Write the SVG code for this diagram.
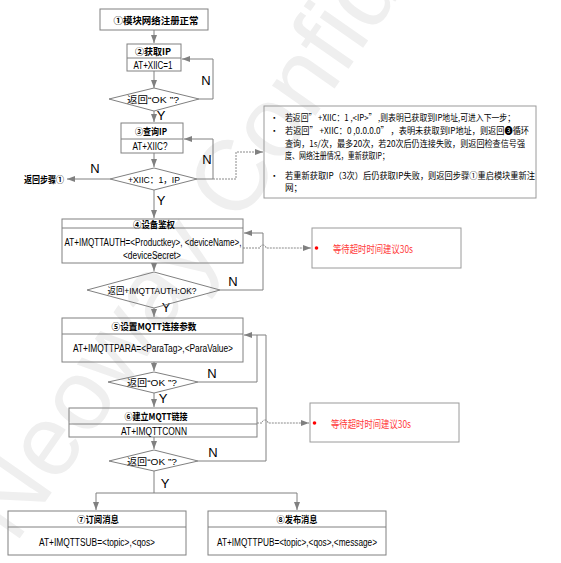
<svg xmlns="http://www.w3.org/2000/svg" width="561" height="563" viewBox="0 0 561 563">
<style>
.bx{fill:none;stroke:#808080;stroke-width:1}
.nb{fill:none;stroke:#9a9a9a;stroke-width:1}
.ln{fill:none;stroke:#808080;stroke-width:1}
.dt{fill:none;stroke:#8a8a8a;stroke-width:1;stroke-dasharray:2,1}
.ti{font-family:"Noto Sans CJK SC","Liberation Sans",sans-serif;font-weight:bold;font-size:9.5px;fill:#000;text-anchor:middle;dominant-baseline:central}
.cd{font-family:"Liberation Sans","Noto Sans CJK SC",sans-serif;font-size:10px;fill:#000;text-anchor:middle;dominant-baseline:central}
.dm{font-family:"Liberation Sans","Noto Sans CJK SC",sans-serif;font-size:9.5px;fill:#000;text-anchor:middle;dominant-baseline:central}
.yn{font-family:"Liberation Sans",sans-serif;font-size:13px;fill:#000;text-anchor:middle;dominant-baseline:central}
.nt{font-family:"Noto Sans CJK SC","Liberation Sans",sans-serif;font-size:8.6px;fill:#000;dominant-baseline:central}
.rd{font-family:"Noto Sans CJK SC","Liberation Sans",sans-serif;font-size:10px;fill:#ff3b3b;dominant-baseline:central}
.wm{font-family:"Liberation Sans",sans-serif;font-size:100px;fill:#efefef}
</style>
<defs>
<marker id="ah" markerUnits="userSpaceOnUse" markerWidth="8" markerHeight="6" refX="8" refY="3" orient="auto"><path d="M0,0 L8,3 L0,6 z" fill="#808080"/></marker>
</defs>
<rect width="561" height="563" fill="#fff"/>
<g id="watermark"><text class="wm" transform="translate(15,545) rotate(-55)">Neoway Confidential</text></g>

<g id="connectors">
<path class="ln" d="M154,30 V43" marker-end="url(#ah)"/>
<path class="ln" d="M154,71 V88" marker-end="url(#ah)"/>
<path class="ln" d="M199,99 H213 V59 H182" marker-end="url(#ah)"/>
<path class="ln" d="M154,111 V122" marker-end="url(#ah)"/>
<path class="ln" d="M154,153 V167" marker-end="url(#ah)"/>
<path class="ln" d="M197,179 H213 V139 H184" marker-end="url(#ah)"/>
<path class="ln" d="M110,179 H67" marker-end="url(#ah)"/>
<path class="dt" d="M213,179 H236 V152 H263" marker-end="url(#ah)"/>
<path class="ln" d="M154,190 V218" marker-end="url(#ah)"/>
<path class="ln" d="M154,263 V271" marker-end="url(#ah)"/>
<path class="ln" d="M220,290 H263 V233 H244" marker-end="url(#ah)"/>
<path class="dt" d="M243,248 H260 a3,3 0 0 1 6,0 H311" marker-end="url(#ah)"/>
<path class="ln" d="M154,308 V317" marker-end="url(#ah)"/>
<path class="ln" d="M154,362 V371" marker-end="url(#ah)"/>
<path class="ln" d="M198,382 H257 V335"/>
<path class="ln" d="M198,461 H266 V335 H244" marker-end="url(#ah)"/>
<path class="ln" d="M154,393 V407" marker-end="url(#ah)"/>
<path class="dt" d="M257,423 H262 a3,3 0 0 1 6,0 H309" marker-end="url(#ah)"/>
<path class="ln" d="M154,437 V449" marker-end="url(#ah)"/>
<path class="ln" d="M154,471 V493 M96,493 H297"/>
<path class="ln" d="M96,493 V510" marker-end="url(#ah)"/>
<path class="ln" d="M297,493 V510" marker-end="url(#ah)"/>
<text class="yn" x="206" y="80">N</text>
<text class="yn" x="161" y="115">Y</text>
<text class="yn" x="207" y="159">N</text>
<text class="yn" x="95" y="168">N</text>
<text class="yn" x="161" y="200">Y</text>
<text class="yn" x="233" y="281">N</text>
<text class="yn" x="166" y="307">Y</text>
<text class="yn" x="212" y="373">N</text>
<text class="yn" x="163" y="398">Y</text>
<text class="yn" x="213" y="452">N</text>
<text class="yn" x="165" y="483">Y</text>
</g>

<g id="n1"><rect class="bx" x="100" y="9" width="108" height="21"/><text class="ti" x="156" y="20" textLength="85" lengthAdjust="spacingAndGlyphs">①模块网络注册正常</text></g>
<g id="n2"><rect class="bx" x="127" y="44" width="54" height="27"/><line class="ln" x1="127" y1="58" x2="181" y2="58"/><text class="ti" x="153" y="51" textLength="36" lengthAdjust="spacingAndGlyphs">②获取IP</text><text class="cd" x="153" y="65" textLength="39" lengthAdjust="spacingAndGlyphs">AT+XIIC=1</text></g>
<g id="d1"><path class="bx" d="M109,99 L154,88 L199,99 L154,111 Z"/><text class="dm" x="153" y="99" textLength="52" lengthAdjust="spacingAndGlyphs">返回“OK ”?</text></g>
<g id="n3"><rect class="bx" x="121" y="123" width="62" height="30"/><line class="ln" x1="121" y1="139" x2="183" y2="139"/><text class="ti" x="151" y="131" textLength="32" lengthAdjust="spacingAndGlyphs">③查询IP</text><text class="cd" x="150" y="146" textLength="35" lengthAdjust="spacingAndGlyphs">AT+XIIC?</text></g>
<g id="d2"><path class="bx" d="M110,179 L154,168 L197,179 L154,190 Z"/><text class="dm" x="154" y="179" textLength="52" lengthAdjust="spacingAndGlyphs">+XIIC：1，IP</text></g>
<g id="back1"><text class="ti" x="64" y="179" style="text-anchor:end" textLength="40" lengthAdjust="spacingAndGlyphs">返回步骤①</text></g>
<g id="note1"><rect class="nb" x="264" y="106" width="272" height="92"/>
<text class="nt" x="270" y="117">•</text><text class="nt" x="270" y="130">•</text><text class="nt" x="270" y="175">•</text>
<text class="nt" x="285" y="117" textLength="230" lengthAdjust="spacingAndGlyphs">若返回” +XIIC：1 ,&lt;IP&gt;” ,则表明已获取到IP地址,可进入下一步；</text>
<text class="nt" x="285" y="130" textLength="244" lengthAdjust="spacingAndGlyphs">若返回” +XIIC：0 ,0.0.0.0” ，表明未获取到IP地址，则返回❸循环</text>
<text class="nt" x="285" y="143" textLength="240" lengthAdjust="spacingAndGlyphs">查询，1s/次，最多20次，若20次后仍连接失败，则返回检查信号强</text>
<text class="nt" x="285" y="155" textLength="104" lengthAdjust="spacingAndGlyphs">度、网络注册情况，重新获取IP；</text>
<text class="nt" x="285" y="175" textLength="250" lengthAdjust="spacingAndGlyphs">若重新获取IP（3次）后仍获取IP失败，则返回步骤①重启模块重新注</text>
<text class="nt" x="285" y="187">网；</text>
</g>
<g id="n4"><rect class="bx" x="62" y="219" width="181" height="44"/><line class="ln" x1="62" y1="228" x2="243" y2="228"/><text class="ti" x="154" y="224" textLength="42" lengthAdjust="spacingAndGlyphs">④设备鉴权</text><text class="cd" x="153" y="242" textLength="177" lengthAdjust="spacingAndGlyphs">AT+IMQTTAUTH=&lt;Productkey&gt;, &lt;deviceName&gt;,</text><text class="cd" x="152" y="255" textLength="58" lengthAdjust="spacingAndGlyphs">&lt;deviceSecret&gt;</text></g>
<g id="d3"><path class="bx" d="M87,290 L154,272 L220,290 L154,308 Z"/><text class="dm" x="152" y="290" textLength="89" lengthAdjust="spacingAndGlyphs">返回+IMQTTAUTH:OK?</text></g>
<g id="note2"><rect class="nb" x="312" y="228" width="149" height="40"/><circle cx="316.5" cy="248" r="1.8" fill="#ff0000"/><text class="rd" x="333" y="248" textLength="80" lengthAdjust="spacingAndGlyphs">等待超时时间建议30s</text></g>
<g id="n5"><rect class="bx" x="62" y="318" width="181" height="44"/><line class="ln" x1="62" y1="334" x2="243" y2="334"/><text class="ti" x="154" y="326" textLength="85" lengthAdjust="spacingAndGlyphs">⑤设置MQTT连接参数</text><text class="cd" x="153" y="348" textLength="160" lengthAdjust="spacingAndGlyphs">AT+IMQTTPARA=&lt;ParaTag&gt;,&lt;ParaValue&gt;</text></g>
<g id="d4"><path class="bx" d="M108,382 L154,372 L198,382 L154,393 Z"/><text class="dm" x="152" y="382" textLength="50" lengthAdjust="spacingAndGlyphs">返回“OK ”?</text></g>
<g id="n6"><rect class="bx" x="69" y="408" width="188" height="29"/><line class="ln" x1="69" y1="424" x2="257" y2="424"/><text class="ti" x="156" y="416" textLength="63" lengthAdjust="spacingAndGlyphs">⑥建立MQTT链接</text><text class="cd" x="154" y="431" textLength="66" lengthAdjust="spacingAndGlyphs">AT+IMQTTCONN</text></g>
<g id="note3"><rect class="nb" x="310" y="403" width="149" height="39"/><circle cx="314.5" cy="423" r="1.8" fill="#ff0000"/><text class="rd" x="331" y="423" textLength="80" lengthAdjust="spacingAndGlyphs">等待超时时间建议30s</text></g>
<g id="d5"><path class="bx" d="M109,461 L154,450 L198,461 L154,471 Z"/><text class="dm" x="152" y="461" textLength="50" lengthAdjust="spacingAndGlyphs">返回“OK ”?</text></g>
<g id="n7"><rect class="bx" x="8" y="511" width="178" height="44"/><line class="ln" x1="8" y1="527" x2="186" y2="527"/><text class="ti" x="98" y="519" textLength="42" lengthAdjust="spacingAndGlyphs">⑦订阅消息</text><text class="cd" x="97" y="542" textLength="116" lengthAdjust="spacingAndGlyphs">AT+IMQTTSUB=&lt;topic&gt;,&lt;qos&gt;</text></g>
<g id="n8"><rect class="bx" x="208" y="511" width="178" height="44"/><line class="ln" x1="208" y1="527" x2="386" y2="527"/><text class="ti" x="297" y="519" textLength="41" lengthAdjust="spacingAndGlyphs">⑧发布消息</text><text class="cd" x="297" y="542" textLength="160" lengthAdjust="spacingAndGlyphs">AT+IMQTTPUB=&lt;topic&gt;,&lt;qos&gt;,&lt;message&gt;</text></g>
</svg>
